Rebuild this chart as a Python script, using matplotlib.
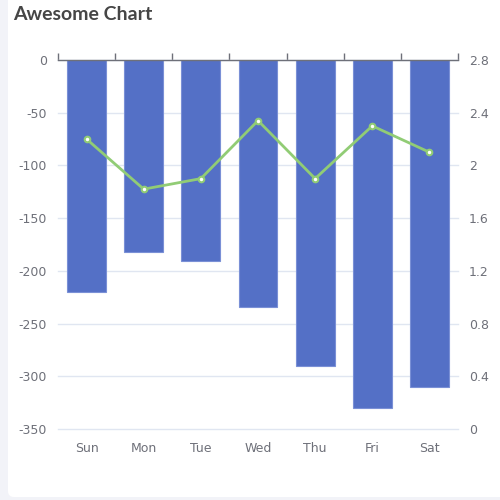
import matplotlib
matplotlib.use("Agg")
import matplotlib.pyplot as plt
from matplotlib.patches import FancyBboxPatch
import numpy as np

days = ["Sun", "Mon", "Tue", "Wed", "Thu", "Fri", "Sat"]
bar_values = [-220, -182, -191, -234, -290, -330, -310]
line_values = [2.2, 1.82, 1.9, 2.34, 1.9, 2.3, 2.1]
left_ticks = [0, -50, -100, -150, -200, -250, -300, -350]
right_ticks = [0, 0.4, 0.8, 1.2, 1.6, 2, 2.4, 2.8]
right_labels = ["0", "0.4", "0.8", "1.2", "1.6", "2", "2.4", "2.8"]

W, H = 500, 500
fig = plt.figure(figsize=(5, 5), dpi=100)
fig.patch.set_facecolor("#F2F3F8")
card = FancyBboxPatch((8 / W, 3 / H), 1.2, 1.2, boxstyle="round,pad=0,rounding_size=0.012",
                      transform=fig.transFigure, facecolor="white", edgecolor="none", zorder=-5)
fig.patches.append(card)

fig.text(13 / W, 1 - 14 / H, "Awesome Chart", fontsize=14, fontweight="bold",
         family="Lato", color="#464646", ha="left", va="center")

ax = fig.add_axes([58 / W, 1 - 429 / H, 400 / W, 369 / H])
ax.set_facecolor("none")
x = np.arange(len(days))
ax.bar(x, bar_values, width=0.68, color="#5470C6", edgecolor="#7A90D6", linewidth=0.8, zorder=2)
ax.set_xlim(-0.5, len(days) - 0.5)
ax.set_ylim(-350, 0)
ax.set_yticks(left_ticks)
ax.set_yticklabels([str(v) for v in left_ticks])
ax.yaxis.grid(True, color="#E0E6F1", linewidth=1, zorder=0)
ax.set_axisbelow(True)
for s in ["left", "right", "bottom"]:
    ax.spines[s].set_visible(False)
ax.spines["top"].set_color("#6E7079")
ax.spines["top"].set_linewidth(1)
ax.set_xticks(x)
ax.set_xticklabels(days)
ax.set_xticks(np.arange(-0.5, len(days)), minor=True)
ax.tick_params(axis="x", which="major", bottom=False, top=False, labelbottom=True,
               labelsize=9, colors="#6E7079", pad=6)
ax.tick_params(axis="x", which="minor", bottom=False, top=True, direction="out",
               length=5, color="#6E7079", width=1)
ax.tick_params(axis="y", length=0, labelsize=9, colors="#6E7079", pad=8)
for gl in ax.get_ygridlines():
    gl.set_clip_on(False)

ax2 = ax.twinx()
ax2.plot(x, line_values, color="#91CC75", linewidth=2, marker="o", markersize=4,
         markerfacecolor="white", markeredgecolor="#91CC75", markeredgewidth=1.5, zorder=3)
ax2.set_ylim(0, 2.8)
ax2.set_yticks(right_ticks)
ax2.set_yticklabels(right_labels)
ax2.tick_params(axis="y", length=0, labelsize=9, colors="#6E7079", pad=8)
for s in ["left", "right", "bottom", "top"]:
    ax2.spines[s].set_visible(False)

fig.savefig("out.png", dpi=100)
